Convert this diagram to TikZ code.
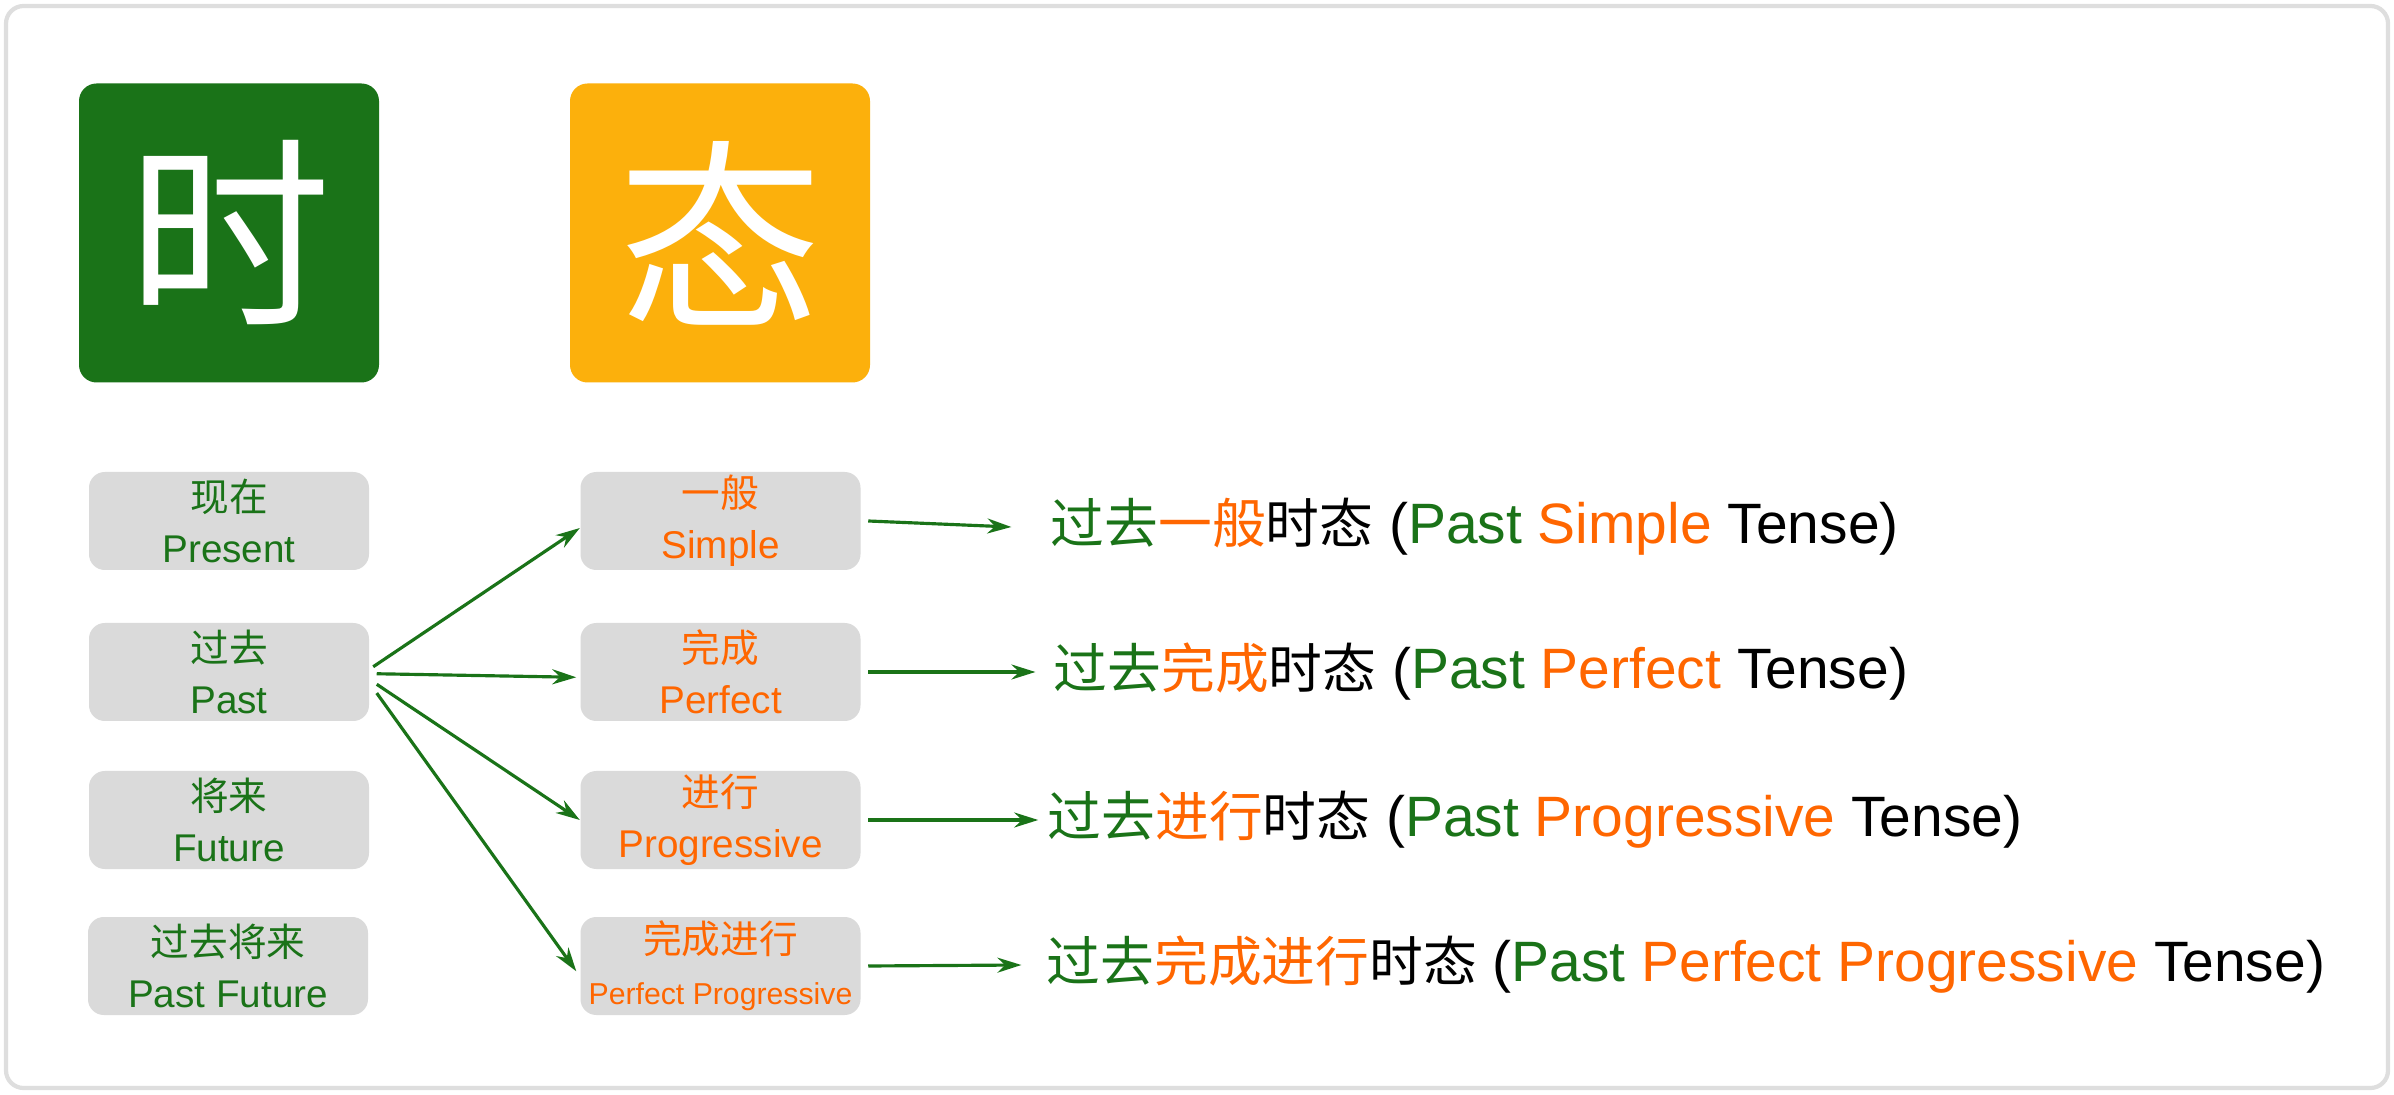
\documentclass[tikz,border=0pt]{standalone}
\usepackage{fontspec}
\setmainfont{Liberation Sans}
\newfontfamily\cjk{Noto Sans CJK SC}
\usepackage{tikz}
\usetikzlibrary{positioning, arrows.meta}
\usepackage{xcolor}
\definecolor{tgreen}{RGB}{26,115,24}
\definecolor{tamber}{RGB}{252,176,12}
\definecolor{torange}{RGB}{255,102,0}
\definecolor{boxgray}{RGB}{218,218,218}
\definecolor{framegray}{RGB}{222,222,222}
\newcommand{\zh}[1]{{\cjk #1}}
\newcommand{\zr}[1]{{\fontsize{15.3}{19}\selectfont\cjk #1}}
\newcommand{\gr}[1]{\textcolor{tgreen}{#1}}
\newcommand{\og}[1]{\textcolor{torange}{#1}}
\tikzset{
  PN/.style={draw=framegray,line width=1.2pt,fill=white,rounded corners=5pt,minimum width=23.82cm,minimum height=10.82cm,inner sep=0pt},
  BG/.style={rectangle,rounded corners=5pt,minimum width=3.0cm,minimum height=2.99cm,inner sep=0pt,text=white,font=\fontsize{58}{58}\selectfont\cjk},
  TB/.style={fill=boxgray,rectangle,rounded corners=4.5pt,minimum width=2.8cm,minimum height=0.98cm,inner sep=0pt,align=center,text=tgreen,font=\fontsize{11}{14.5}\selectfont},
  AB/.style={TB,text=torange},
  RW/.style={anchor=west,inner sep=0pt,font=\fontsize{16.2}{19}\selectfont},
  FL/.style={-{Stealth[length=0.24cm,width=0.15cm]},line width=0.9pt,tgreen},
}
\begin{document}
\begin{tikzpicture}
\useasboundingbox (0,0) rectangle (23.94,10.94);

% panel
\node[PN](panel) at (11.97,5.47){};

% headers
\node[BG,fill=tgreen](shi) at (2.29,8.61){时};
\node[BG,fill=tamber](tai) at (7.20,8.61){态};

% time column
\node[TB](present) at (2.29,5.73){\zh{现在}\\Present};
\node[TB](past)    at (2.29,4.22){\zh{过去}\\Past};
\node[TB](future)  at (2.29,2.74){\zh{将来}\\Future};
\node[TB](pastfut) at (2.28,1.28){\zh{过去将来}\\Past Future};

% aspect column
\node[AB](simple)   at (7.205,5.73){\zh{一般}\\Simple};
\node[AB](perfect)  at (7.205,4.22){\zh{完成}\\Perfect};
\node[AB](progress) at (7.205,2.74){\zh{进行}\\Progressive};
\node[AB](perfprog) at (7.205,1.28){\zh{完成进行}\\{\fontsize{8.6}{10}\selectfont Perfect Progressive}};

% results
\node[RW](r1) at (10.50,5.67){\gr{\zr{过去}}\og{\zr{一般}}\zr{时态} (\gr{Past} \og{Simple} Tense)};
\node[RW](r2) at (10.53,4.22){\gr{\zr{过去}}\og{\zr{完成}}\zr{时态} (\gr{Past} \og{Perfect} Tense)};
\node[RW](r3) at (10.47,2.74){\gr{\zr{过去}}\og{\zr{进行}}\zr{时态} (\gr{Past} \og{Progressive} Tense)};
\node[RW](r4) at (10.46,1.29){\gr{\zr{过去}}\og{\zr{完成进行}}\zr{时态} (\gr{Past} \og{Perfect Progressive} Tense)};

% FLOWS
\draw[FL]([xshift=1pt,yshift=1.5pt]past.east)--([yshift=-2pt]simple.west);
\draw[FL]([xshift=2pt,yshift=-0.5pt]past.east)--([xshift=-1pt,yshift=-1.5pt]perfect.west);
\draw[FL]([xshift=2pt,yshift=-3.5pt]past.east)--(progress.west);
\draw[FL]([xshift=2pt,yshift=-6pt]past.east)--([xshift=-1pt,yshift=-1.5pt]perfprog.west);

\draw[FL]([xshift=2pt]simple.east)--([xshift=-11pt]r1.west);
\draw[FL]([xshift=2pt]perfect.east)--([xshift=-5pt]r2.west);
\draw[FL]([xshift=2pt]progress.east)--([xshift=-2.5pt]r3.west);
\draw[FL]([xshift=2pt]perfprog.east)--([xshift=-7pt]r4.west);

\end{tikzpicture}
\end{document}
